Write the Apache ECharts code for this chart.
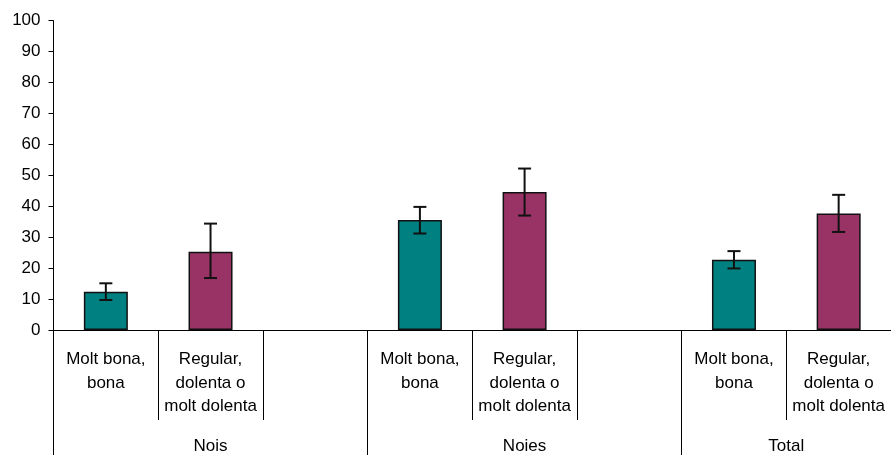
<!DOCTYPE html>
<html>
<head>
<meta charset="utf-8">
<script src="https://cdn.jsdelivr.net/npm/echarts@6/dist/echarts.min.js"></script>
<style>html,body{margin:0;padding:0;background:#fff}#c{width:891px;height:455px}</style>
</head>
<body>
<div id="c"></div>
<script>
var groups = ['Nois', 'Noies', 'Total'];
var groupSizes = [3, 3, 2];
var subLabels = ['Molt bona,\nbona', 'Regular,\ndolenta o\nmolt dolenta'];
var goodValues = [12.4, 35.6, 22.7];
var goodLow = [9.7, 31.2, 19.9];
var goodHigh = [15.1, 39.8, 25.5];
var badValues = [25.3, 44.6, 37.7];
var badLow = [16.8, 37.0, 31.7];
var badHigh = [34.4, 52.2, 43.7];
var yTicks = [0, 10, 20, 30, 40, 50, 60, 70, 80, 90, 100];

// build category list
var categories = [], goodSeries = [], badSeries = [], errData = [];
var groupStarts = [], groupCenters = [];
var idx = 0;
groups.forEach(function (g, gi) {
  groupStarts.push(idx);
  groupCenters.push(idx + groupSizes[gi] / 2);
  for (var k = 0; k < groupSizes[gi]; k++) {
    var key = 'c' + idx;
    categories.push(key);
    if (k === 0) {
      goodSeries.push(goodValues[gi]); badSeries.push(null);
      errData.push([idx, goodLow[gi], goodHigh[gi]]);
    } else if (k === 1) {
      goodSeries.push(null); badSeries.push(badValues[gi]);
      errData.push([idx, badLow[gi], badHigh[gi]]);
    } else {
      goodSeries.push(null); badSeries.push(null);
    }
    idx++;
  }
});
var labelOf = {};
categories.forEach(function (c, i) {
  var pos = i; var gi = 0;
  while (gi < groups.length && pos >= groupSizes[gi]) { pos -= groupSizes[gi]; gi++; }
  labelOf[c] = pos < subLabels.length ? subLabels[pos] : '';
});
var total = categories.length;
var groupTickValues = groupStarts.concat([total]);

var chart = echarts.init(document.getElementById('c'), null, {renderer: 'canvas'});
var font = 'Liberation Sans, Arial, sans-serif';
chart.setOption({
  animation: false,
  grid: {left: 53.5, right: 0, top: 20.7, bottom: 124.3, containLabel: false},
  xAxis: [{
    type: 'category',
    data: categories,
    axisLine: {show: true, lineStyle: {color: '#000', width: 1}},
    axisTick: {show: true, interval: 0, length: 90, lineStyle: {color: '#000', width: 1}},
    axisLabel: {
      interval: 0, margin: 18, fontSize: 17, lineHeight: 23.5, color: '#000', fontFamily: font,
      formatter: function (v) { return labelOf[v]; }
    },
    splitLine: {show: false}
  }, {
    type: 'value',
    position: 'bottom',
    min: 0, max: total,
    axisLine: {show: false},
    axisTick: {show: true, customValues: groupTickValues, length: 125, lineStyle: {color: '#000', width: 1}},
    axisLabel: {
      show: true, customValues: groupCenters, margin: 108, fontSize: 17, color: '#000', fontFamily: font,
      formatter: function (v) {
        var i = groupCenters.indexOf(v);
        return i >= 0 ? groups[i] : '';
      }
    },
    splitLine: {show: false}
  }],
  yAxis: {
    type: 'value', min: 0, max: 100, interval: 10,
    axisLine: {show: true, lineStyle: {color: '#000', width: 1}},
    axisTick: {show: true, length: 5, lineStyle: {color: '#000'}},
    axisLabel: {fontSize: 17, color: '#000', margin: 13, fontFamily: font,
      formatter: function (v) { return yTicks.indexOf(v) >= 0 ? String(v) : ''; }},
    splitLine: {show: false}
  },
  series: [{
    type: 'bar', stack: 's', data: goodSeries, barWidth: 44,
    itemStyle: {color: '#008080', borderColor: '#111', borderWidth: 1.5}
  }, {
    type: 'bar', stack: 's', data: badSeries, barWidth: 44,
    itemStyle: {color: '#993366', borderColor: '#111', borderWidth: 1.5}
  }, {
    type: 'custom',
    data: errData,
    z: 10,
    renderItem: function (params, api) {
      var x = api.value(0);
      var lo = api.coord([x, api.value(1)]);
      var hi = api.coord([x, api.value(2)]);
      var cap = 6.5;
      var st = {stroke: '#111', lineWidth: 2};
      return {type: 'group', children: [
        {type: 'line', shape: {x1: lo[0], y1: lo[1], x2: hi[0], y2: hi[1]}, style: st},
        {type: 'line', shape: {x1: lo[0] - cap, y1: lo[1], x2: lo[0] + cap, y2: lo[1]}, style: st},
        {type: 'line', shape: {x1: hi[0] - cap, y1: hi[1], x2: hi[0] + cap, y2: hi[1]}, style: st}
      ]};
    }
  }]
});
</script>
</body>
</html>
